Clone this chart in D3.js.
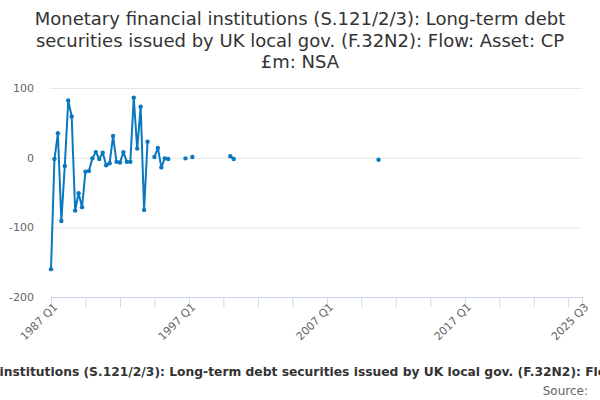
<!DOCTYPE html>
<html>
<head>
<meta charset="utf-8">
<script src="https://cdn.jsdelivr.net/npm/d3@7"></script>
<style>
  body { margin: 0; background: #fff; }
  svg { display: block; font-family: "DejaVu Sans", sans-serif; }
</style>
</head>
<body>
<div id="chart"></div>
<script>
// chart text
const titleLines = [
    "Monetary financial institutions (S.121/2/3): Long-term debt",
    "securities issued by UK local gov. (F.32N2): Flow: Asset: CP",
    "£m: NSA"
];
const footerText = "Monetary financial institutions (S.121/2/3): Long-term debt securities issued by UK local gov. (F.32N2): Flow: Asset: CP £m: NSA";
const sourceText = "Source:";

// observations (quarters with no value are left out)
const periods = [
    "1987 Q1", "1987 Q2", "1987 Q3", "1987 Q4",
    "1988 Q1", "1988 Q2", "1988 Q3", "1988 Q4",
    "1989 Q1", "1989 Q2", "1989 Q3", "1989 Q4",
    "1990 Q1", "1990 Q2", "1990 Q3", "1990 Q4",
    "1991 Q1", "1991 Q2", "1991 Q3", "1991 Q4",
    "1992 Q1", "1992 Q2", "1992 Q3", "1992 Q4",
    "1993 Q1", "1993 Q2", "1993 Q3", "1993 Q4",
    "1994 Q1", "1994 Q3", "1994 Q4",
    "1995 Q1", "1995 Q2", "1995 Q3",
    "1996 Q4", "1997 Q2",
    "2000 Q1", "2000 Q2",
    "2010 Q4"
];
const values = [
    -160, -2, 35, -91,
    -12, 82, 59, -76,
    -51, -71, -20, -19,
    -1, 8, -2, 7,
    -11, -8, 31, -6,
    -7, 8, -6, -6,
    86, 13, 73, -75,
    23, 1, 14,
    -14, -1, -2,
    -1, 1,
    2, -2,
    -3
];

// axes
const axisStart = "1987 Q1";
const axisEnd = "2025 Q3";
const xTickLabels = ["1987 Q1", "1997 Q1", "2007 Q1", "2017 Q1", "2025 Q3"];
const yTicks = [-200, -100, 0, 100];

const width = 600, height = 400;
const margin = { top: 88, right: 18, bottom: 103, left: 51 };
const lineColor = "#0a78be";

// "1987 Q3" -> running quarter number
function quarterIndex(p) {
    const parts = p.split(" Q");
    return (+parts[0]) * 4 + (+parts[1] - 1);
}

const svg = d3.select("#chart").append("svg")
    .attr("width", width)
    .attr("height", height);

// title
svg.append("text")
    .attr("text-anchor", "middle")
    .style("font-size", "18px")
    .style("fill", "#333")
    .selectAll("tspan")
    .data(titleLines)
    .join("tspan")
    .attr("x", width / 2)
    .attr("y", (d, i) => 25 + i * 21.5)
    .text(d => d);

const x = d3.scaleLinear()
    .domain([quarterIndex(axisStart), quarterIndex(axisEnd)])
    .range([margin.left, width - margin.right]);
const y = d3.scaleLinear()
    .domain([-200, 100])
    .range([height - margin.bottom, margin.top]);

// gridlines and y labels
const yAxis = svg.append("g")
    .attr("transform", `translate(${margin.left - 1},0)`)
    .call(d3.axisLeft(y).tickValues(yTicks)
        .tickSize(-(width - margin.left - margin.right + 1))
        .tickPadding(16)
        .tickFormat(d => String(d)));
yAxis.select(".domain").remove();
yAxis.selectAll(".tick line").attr("stroke", "#e6e6e6");
yAxis.selectAll(".tick text")
    .style("font-family", "DejaVu Sans, sans-serif")
    .style("font-size", "11px")
    .style("fill", "#666");

// x axis: a tick every 10 quarters, plus one at the end
const q0 = quarterIndex(axisStart), q1 = quarterIndex(axisEnd);
const tickQuarters = d3.range(q0, q1, 10).concat([q1]);
const labelQuarters = xTickLabels.map(quarterIndex);
const xAxis = svg.append("g")
    .attr("transform", `translate(0,${height - margin.bottom})`)
    .call(d3.axisBottom(x).tickValues(tickQuarters).tickSize(10).tickSizeOuter(0)
        .tickFormat(q => {
            const k = labelQuarters.indexOf(q);
            return k >= 0 ? xTickLabels[k] : "";
        }));
xAxis.select(".domain").attr("stroke", "#ccd6eb");
xAxis.selectAll(".tick line").attr("stroke", "#ccd6eb");
xAxis.selectAll(".tick text")
    .style("font-family", "DejaVu Sans, sans-serif")
    .style("font-size", "11px")
    .style("fill", "#666")
    .attr("text-anchor", "end")
    .attr("transform", "translate(4,8) rotate(-45)")
    .attr("x", 0)
    .attr("y", 0)
    .attr("dy", "0.35em");

// series
const data = periods.map((p, i) => ({ q: quarterIndex(p), v: values[i] }));
// split into runs of consecutive quarters
const runs = [];
data.forEach((d, i) => {
    if (i === 0 || d.q - data[i - 1].q > 1) runs.push([]);
    runs[runs.length - 1].push(d);
});

const line = d3.line()
    .x(d => x(d.q))
    .y(d => y(d.v));

svg.append("g")
    .selectAll("path")
    .data(runs.filter(r => r.length > 1))
    .join("path")
    .attr("d", line)
    .attr("fill", "none")
    .attr("stroke", lineColor)
    .attr("stroke-width", 2)
    .attr("stroke-linejoin", "round");

svg.append("g")
    .selectAll("circle")
    .data(data)
    .join("circle")
    .attr("cx", d => x(d.q))
    .attr("cy", d => y(d.v))
    .attr("r", 2.2)
    .attr("fill", lineColor);

// footer (wider than the chart, clipped at both sides as in the original)
svg.append("text")
    .attr("x", 311)
    .attr("y", 376)
    .attr("text-anchor", "middle")
    .style("font-size", "12.3px")
    .style("font-weight", "bold")
    .style("fill", "#333")
    .text(footerText);

svg.append("text")
    .attr("x", 588)
    .attr("y", 395)
    .attr("text-anchor", "end")
    .style("font-size", "12px")
    .style("fill", "#666")
    .text(sourceText);
</script>
</body>
</html>
